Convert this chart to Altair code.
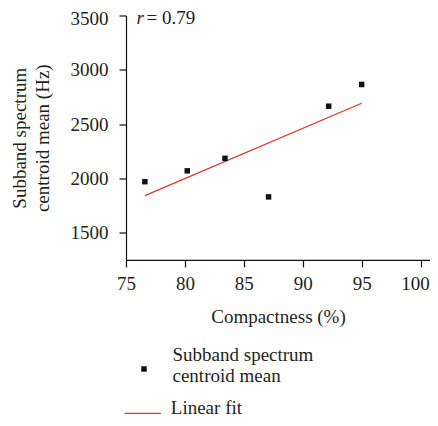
import altair as alt
import pandas as pd

# Data
compactness = [76.6, 80.2, 83.4, 87.1, 92.2, 95.0]
centroid = [1970, 2070, 2185, 1830, 2665, 2865]
fit_x = [76.6, 95.0]
fit_y = [1841, 2692]
point_label = "Subband spectrum centroid mean"
fit_label = "Linear fit"
x_ticks = [75, 77.5, 80, 82.5, 85, 87.5, 90, 92.5, 95, 97.5, 100]
y_ticks = [1500, 1750, 2000, 2250, 2500, 2750, 3000, 3250, 3500]

FONT = "Liberation Serif"
TXT = "#231f20"

pts = pd.DataFrame({"x": compactness, "y": centroid, "series": point_label})
fit = pd.DataFrame({"x": fit_x, "y": fit_y, "series": fit_label})

xscale = alt.Scale(domain=[75, 100.8], nice=False, zero=False)
yscale = alt.Scale(domain=[1250, 3500], nice=False, zero=False)

xaxis = alt.Axis(
    values=x_ticks, format="d",
    labelExpr="datum.value % 5 == 0 ? datum.label : ''",
    tickSize={"condition": {"test": "datum.value % 5 != 0", "value": 4}, "value": 7},
    labelOffset={"condition": {"test": "datum.value == 100", "value": -5.5}, "value": 0},
    labelFlush=False, labelOverlap=False, labelPadding=8,
    title="Compactness (%)", titleBaseline="alphabetic", titleY=63,
)
yaxis = alt.Axis(
    values=y_ticks, format="d",
    labelExpr="datum.value % 500 == 0 ? datum.label : ''",
    tickSize={"condition": {"test": "datum.value % 500 != 0", "value": 4}, "value": 7},
    labelOffset={"condition": {"test": "datum.value == 3500", "value": 2.5}, "value": 0},
    labelOverlap=False, labelPadding=11,
    title=["Subband spectrum", "centroid mean (Hz)"], titleLineHeight=23,
    titleX=-96.5,
)

points = alt.Chart(pts).mark_point(filled=True, shape="square", size=30, opacity=1).encode(
    x=alt.X("x:Q", scale=xscale, axis=xaxis),
    y=alt.Y("y:Q", scale=yscale, axis=yaxis),
    fill=alt.Fill(
        "series:N",
        scale=alt.Scale(domain=[point_label], range=["#111111"]),
        legend=alt.Legend(
            title=None, orient="none", legendX=8.5, legendY=330, padding=0,
            symbolType="M-1,4.11L1,4.11L1,6.11L-1,6.11Z",
            symbolSize=30, symbolStrokeWidth=0, symbolOpacity=1,
            labelFont=FONT, labelFontSize=19, labelColor=TXT, labelOffset=19,
            labelLimit=400,
            labelExpr="datum.label == '" + point_label + "' ? ['Subband spectrum', 'centroid mean'] : datum.label",
        ),
    ),
)

line = alt.Chart(fit).mark_line(strokeWidth=1.3).encode(
    x="x:Q",
    y="y:Q",
    stroke=alt.Stroke(
        "series:N",
        scale=alt.Scale(domain=[fit_label], range=["#e3342b"]),
        legend=alt.Legend(
            title=None, orient="none", legendX=-2.2, legendY=373, padding=0,
            symbolType="M-1,0.33L1,0.33", symbolSize=1300, symbolStrokeWidth=1.3,
            labelFont=FONT, labelFontSize=19, labelColor=TXT, labelOffset=9,
        ),
    ),
)

ann_r = alt.Chart(pd.DataFrame({"t": ["r"]})).mark_text(
    font=FONT, fontSize=19, fontStyle="italic", color=TXT, align="left", baseline="alphabetic"
).encode(text="t:N", x=alt.value(10.5), y=alt.value(8))
ann_v = alt.Chart(pd.DataFrame({"t": ["= 0.79"]})).mark_text(
    font=FONT, fontSize=19, color=TXT, align="left", baseline="alphabetic"
).encode(text="t:N", x=alt.value(20.5), y=alt.value(8))

chart = (
    alt.layer(line, points, ann_r, ann_v)
    .resolve_scale(fill="independent", stroke="independent")
    .properties(
        width=304, height=244.4,
        autosize=alt.AutoSizeParams(type="none"),
        padding={"left": 118, "top": 7.5, "right": 0, "bottom": 158.1},
    )
    .configure_view(stroke=None)
    .configure_axis(
        grid=False, domainColor="#111111", tickColor="#111111", domainWidth=1.2, tickWidth=1.2,
        labelFont=FONT, labelFontSize=19, labelColor=TXT,
        titleFont=FONT, titleFontSize=19, titleFontWeight="normal", titleColor=TXT,
    )
)

chart.save("out.html", embed_options={"renderer": "svg", "actions": False})
